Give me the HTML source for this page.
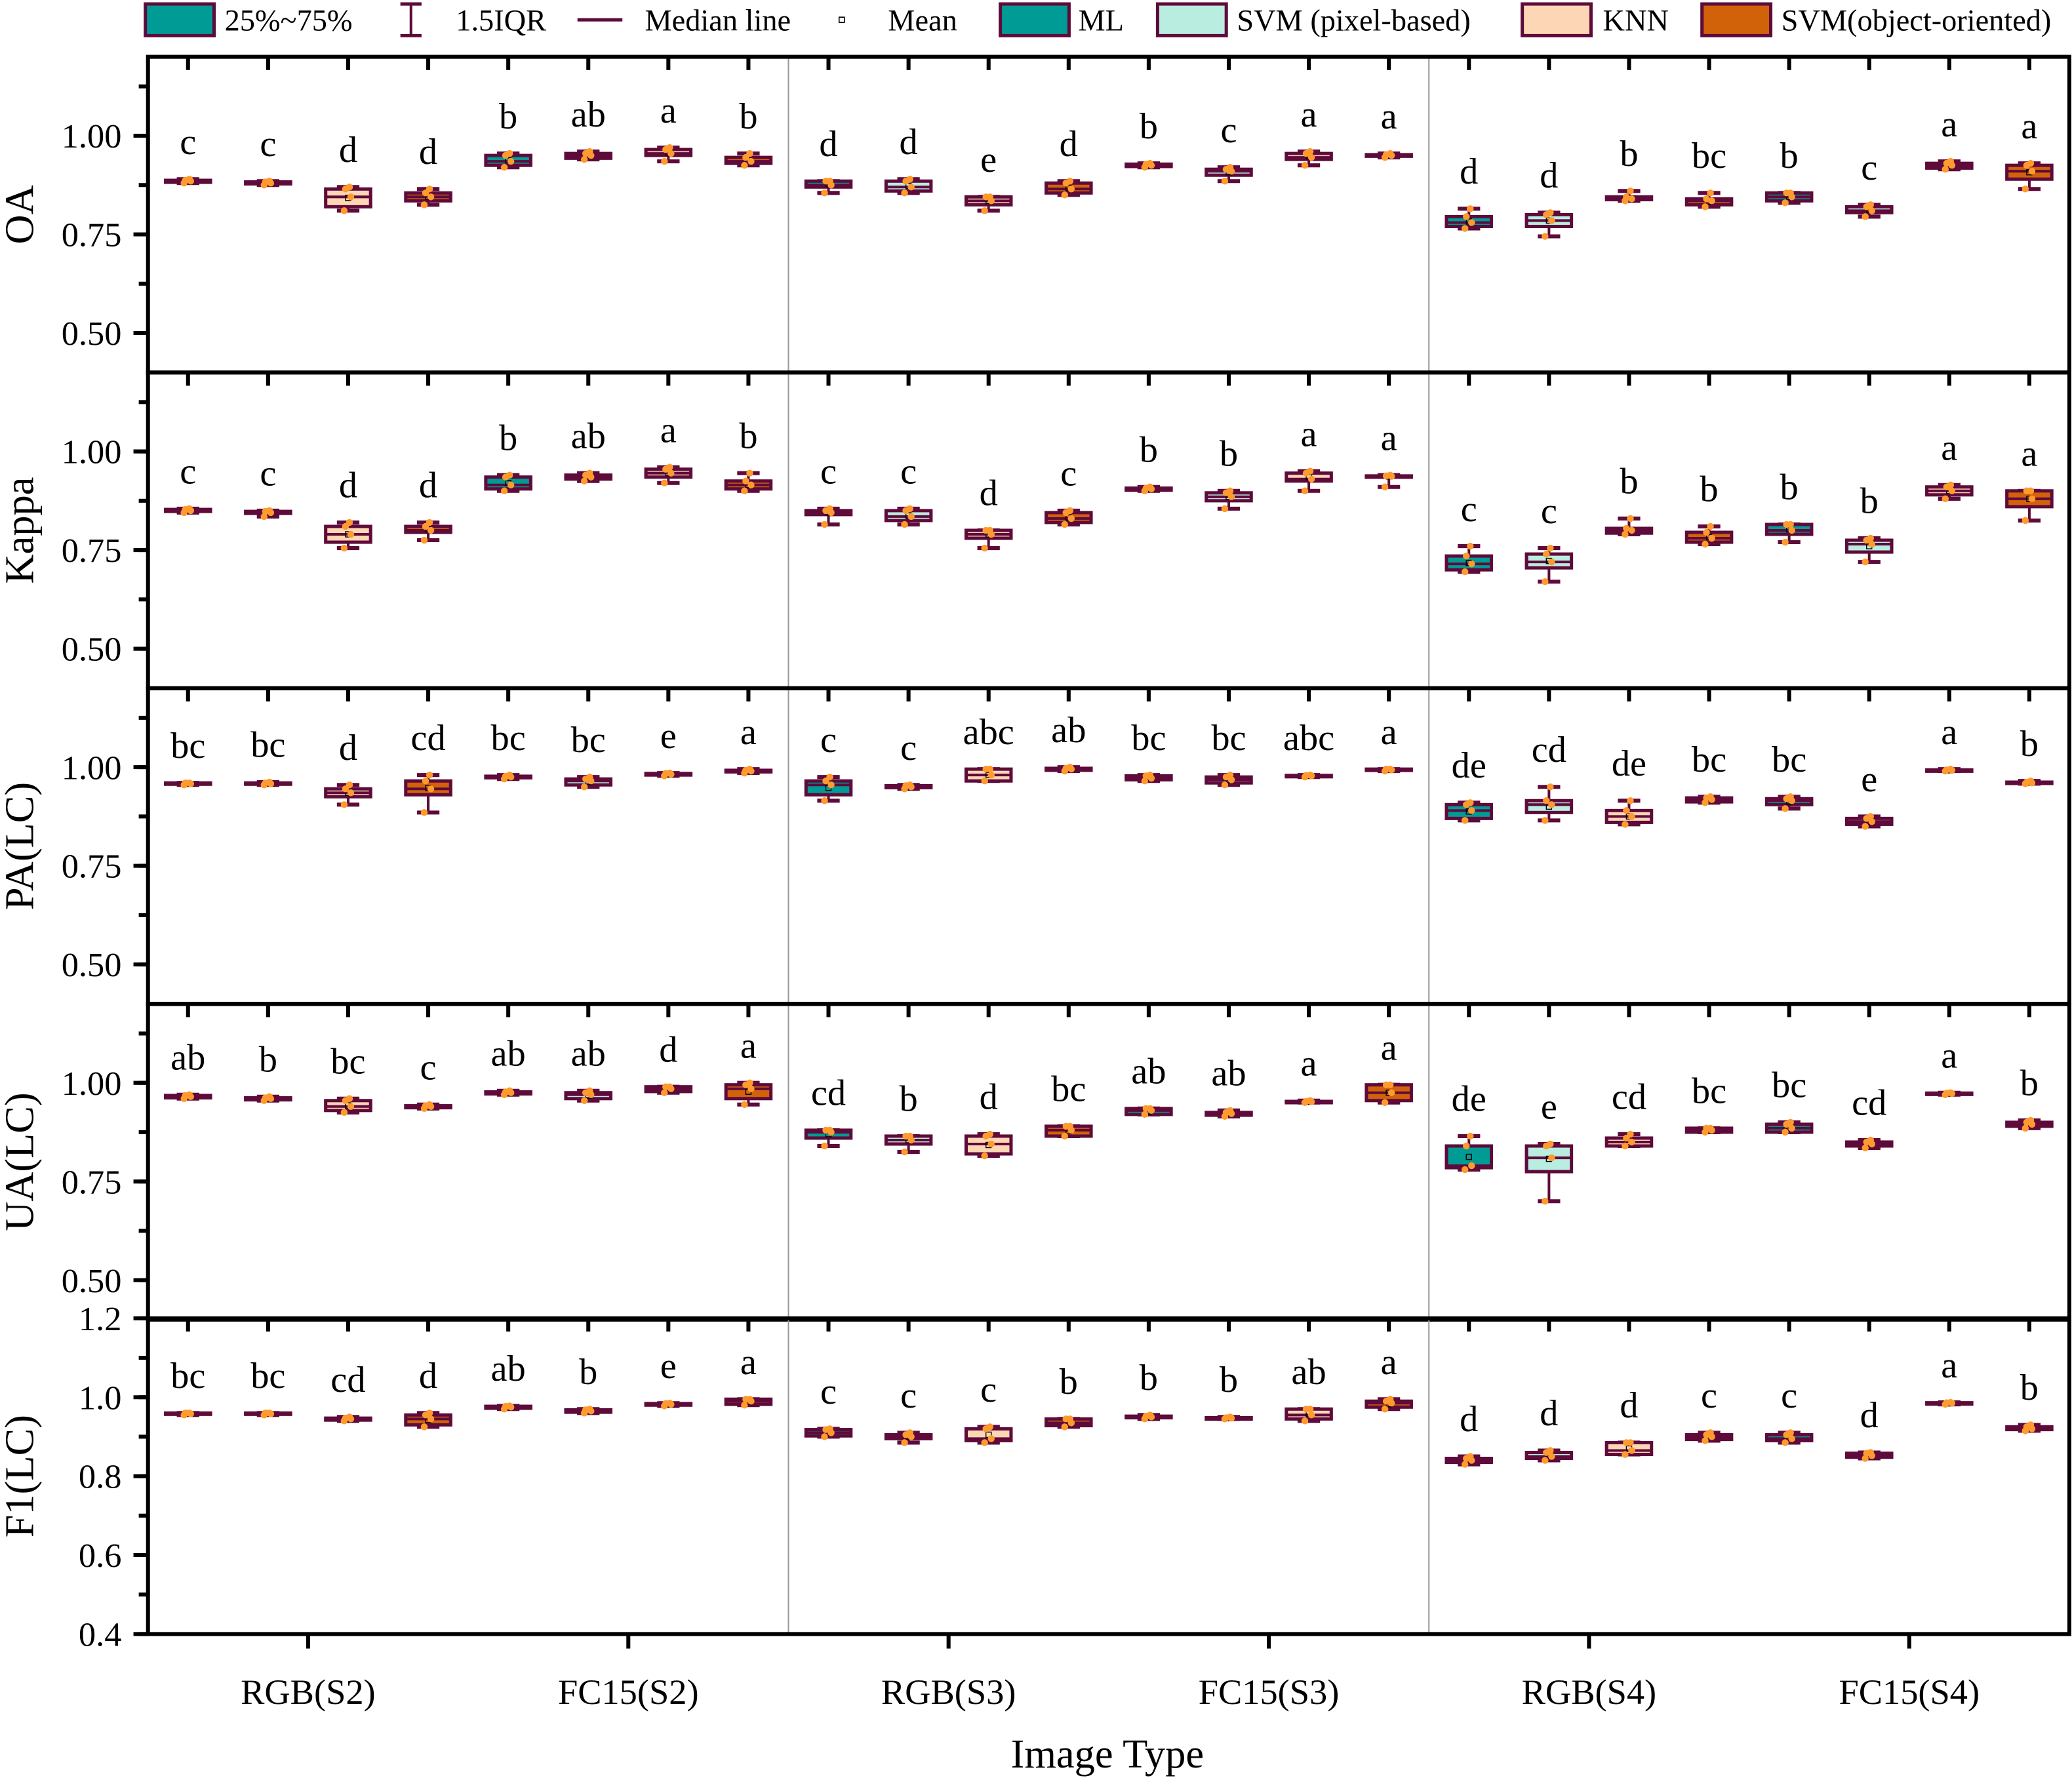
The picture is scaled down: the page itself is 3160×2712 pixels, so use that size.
<!DOCTYPE html>
<html><head><meta charset="utf-8"><style>
html,body{margin:0;padding:0;background:#fff;}
svg{display:block;}
text{font-family:"Liberation Serif",serif;fill:#000;}
</style></head><body>
<svg id="chart" width="3160" height="2712" viewBox="0 0 1568 1346" preserveAspectRatio="none" xmlns="http://www.w3.org/2000/svg">
<g id="legend">
  <g><rect x="110" y="3" width="52" height="24" fill="#009b94" stroke="#5e0a3a" stroke-width="2.5"/><text x="170" y="23" font-size="23">25%~75%</text></g>
  <g><line x1="311" y1="3" x2="311" y2="27" stroke="#5e0a3a" stroke-width="2"/><line x1="303" y1="3" x2="319" y2="3" stroke="#5e0a3a" stroke-width="2.5"/><line x1="303" y1="27" x2="319" y2="27" stroke="#5e0a3a" stroke-width="2.5"/><text x="345" y="23" font-size="23">1.5IQR</text></g>
  <g><line x1="437" y1="15" x2="471" y2="15" stroke="#5e0a3a" stroke-width="2.5"/><text x="488" y="23" font-size="23">Median line</text></g>
  <g><rect x="635" y="13" width="4" height="4" fill="none" stroke="#000" stroke-width="0.8"/><text x="672" y="23" font-size="23">Mean</text></g>
  <g><rect x="757" y="3" width="52" height="24" fill="#009b94" stroke="#5e0a3a" stroke-width="2.5"/><text x="816" y="23" font-size="23">ML</text></g>
  <g><rect x="876" y="3" width="52" height="24" fill="#b9ede0" stroke="#5e0a3a" stroke-width="2.5"/><text x="936" y="23" font-size="23">SVM (pixel-based)</text></g>
  <g><rect x="1152" y="3" width="52" height="24" fill="#fdd6b5" stroke="#5e0a3a" stroke-width="2.5"/><text x="1213" y="23" font-size="23">KNN</text></g>
  <g><rect x="1288" y="3" width="52" height="24" fill="#d2620a" stroke="#5e0a3a" stroke-width="2.5"/><text x="1348" y="23" font-size="23">SVM(object-oriented)</text></g>
</g>
<g id="plots"></g>
</svg>
<script>
const categories = ["RGB(S2)","FC15(S2)","RGB(S3)","FC15(S3)","RGB(S4)","FC15(S4)"];
const methods = ["ML","SVM (pixel-based)","KNN","SVM(object-oriented)"];
const metricNames = ["OA","Kappa","PA(LC)","UA(LC)","F1(LC)"];
// each box: [whiskerLow, q1, median, q3, whiskerHigh]
const oaBoxes = [[0.88,0.882,0.885,0.887,0.89],[0.875,0.878,0.88,0.883,0.885],[0.81,0.82,0.845,0.865,0.87],[0.825,0.835,0.845,0.855,0.865],[0.92,0.925,0.935,0.95,0.955],[0.94,0.943,0.95,0.955,0.96],[0.935,0.95,0.955,0.965,0.97],[0.925,0.93,0.935,0.945,0.955],[0.855,0.87,0.875,0.885,0.885],[0.855,0.86,0.87,0.885,0.89],[0.81,0.825,0.835,0.845,0.845],[0.85,0.855,0.865,0.88,0.885],[0.92,0.922,0.925,0.928,0.93],[0.885,0.9,0.91,0.915,0.92],[0.925,0.94,0.945,0.955,0.96],[0.945,0.948,0.95,0.952,0.955],[0.765,0.77,0.78,0.795,0.815],[0.745,0.77,0.785,0.8,0.805],[0.835,0.838,0.84,0.845,0.86],[0.82,0.825,0.835,0.84,0.855],[0.83,0.835,0.845,0.855,0.855],[0.795,0.805,0.81,0.82,0.825],[0.915,0.918,0.925,0.93,0.935],[0.865,0.89,0.91,0.925,0.93]];
const oaLetters = ["c","c","d","d","b","ab","a","b","d","d","e","d","b","c","a","a","d","d","b","bc","b","c","a","a"];
const kappaBoxes = [[0.845,0.848,0.85,0.853,0.855],[0.835,0.843,0.845,0.848,0.85],[0.755,0.77,0.79,0.81,0.82],[0.775,0.795,0.8,0.81,0.82],[0.9,0.905,0.915,0.935,0.94],[0.925,0.93,0.935,0.94,0.945],[0.92,0.935,0.945,0.955,0.96],[0.9,0.905,0.915,0.925,0.945],[0.815,0.84,0.845,0.85,0.855],[0.815,0.825,0.835,0.85,0.855],[0.755,0.78,0.79,0.8,0.8],[0.815,0.82,0.83,0.845,0.85],[0.9,0.902,0.905,0.907,0.91],[0.855,0.875,0.885,0.895,0.9],[0.9,0.925,0.93,0.945,0.95],[0.91,0.935,0.937,0.938,0.94],[0.695,0.7,0.715,0.735,0.76],[0.67,0.705,0.72,0.74,0.755],[0.79,0.793,0.8,0.805,0.83],[0.765,0.77,0.78,0.795,0.81],[0.77,0.79,0.8,0.815,0.815],[0.72,0.745,0.765,0.775,0.78],[0.88,0.89,0.9,0.91,0.915],[0.825,0.86,0.88,0.9,0.9]];
const kappaLetters = ["c","c","d","d","b","ab","a","b","c","c","d","c","b","b","a","a","c","c","b","b","b","b","a","a"];
const paBoxes = [[0.955,0.957,0.958,0.96,0.96],[0.955,0.957,0.958,0.96,0.962],[0.905,0.925,0.935,0.945,0.955],[0.885,0.93,0.945,0.965,0.98],[0.97,0.973,0.975,0.977,0.98],[0.95,0.955,0.965,0.97,0.975],[0.978,0.98,0.982,0.984,0.985],[0.985,0.988,0.99,0.992,0.995],[0.915,0.93,0.955,0.965,0.975],[0.945,0.948,0.95,0.953,0.955],[0.965,0.965,0.98,0.995,0.995],[0.99,0.992,0.995,0.997,1.0],[0.965,0.968,0.972,0.978,0.98],[0.955,0.96,0.968,0.975,0.98],[0.975,0.977,0.978,0.979,0.98],[0.99,0.992,0.993,0.995,0.995],[0.865,0.87,0.89,0.905,0.91],[0.865,0.885,0.905,0.915,0.95],[0.855,0.86,0.875,0.89,0.915],[0.91,0.912,0.918,0.922,0.925],[0.895,0.905,0.915,0.92,0.925],[0.85,0.855,0.862,0.87,0.875],[0.99,0.991,0.992,0.993,0.995],[0.958,0.96,0.96,0.962,0.965]];
const paLetters = ["bc","bc","d","cd","bc","bc","e","a","c","c","abc","ab","bc","bc","abc","a","de","cd","de","bc","bc","e","a","b"];
const uaBoxes = [[0.96,0.962,0.965,0.968,0.97],[0.955,0.957,0.96,0.962,0.965],[0.925,0.93,0.94,0.955,0.96],[0.935,0.937,0.94,0.942,0.945],[0.97,0.972,0.975,0.977,0.98],[0.955,0.96,0.97,0.975,0.98],[0.975,0.978,0.985,0.99,0.99],[0.945,0.96,0.985,0.995,1.0],[0.84,0.86,0.875,0.88,0.88],[0.825,0.845,0.855,0.865,0.865],[0.815,0.82,0.845,0.865,0.87],[0.865,0.865,0.88,0.89,0.89],[0.92,0.92,0.93,0.935,0.935],[0.915,0.918,0.922,0.925,0.93],[0.95,0.951,0.952,0.953,0.955],[0.95,0.955,0.975,0.995,0.995],[0.78,0.785,0.79,0.84,0.865],[0.7,0.775,0.81,0.84,0.845],[0.84,0.84,0.85,0.86,0.87],[0.875,0.875,0.88,0.885,0.885],[0.875,0.875,0.885,0.895,0.9],[0.835,0.84,0.845,0.85,0.855],[0.97,0.972,0.973,0.974,0.975],[0.885,0.89,0.895,0.9,0.905]];
const uaLetters = ["ab","b","bc","c","ab","ab","d","a","cd","b","d","bc","ab","ab","a","a","de","e","cd","bc","bc","cd","a","b"];
const f1Boxes = [[0.955,0.957,0.958,0.96,0.96],[0.955,0.957,0.958,0.96,0.96],[0.94,0.942,0.945,0.947,0.95],[0.925,0.93,0.945,0.955,0.96],[0.97,0.972,0.975,0.977,0.978],[0.96,0.962,0.965,0.968,0.97],[0.978,0.98,0.982,0.984,0.985],[0.98,0.982,0.99,0.995,0.995],[0.9,0.902,0.91,0.918,0.92],[0.885,0.895,0.9,0.905,0.91],[0.885,0.89,0.895,0.92,0.925],[0.925,0.928,0.935,0.945,0.945],[0.945,0.948,0.95,0.952,0.955],[0.945,0.946,0.947,0.948,0.95],[0.94,0.945,0.955,0.97,0.97],[0.97,0.975,0.985,0.99,0.995],[0.83,0.835,0.84,0.845,0.85],[0.84,0.845,0.85,0.86,0.865],[0.855,0.855,0.865,0.885,0.885],[0.89,0.893,0.9,0.905,0.91],[0.885,0.89,0.895,0.905,0.91],[0.845,0.848,0.852,0.858,0.86],[0.982,0.983,0.985,0.986,0.987],[0.915,0.918,0.92,0.925,0.93]];
const f1Letters = ["bc","bc","cd","d","ab","b","e","a","c","c","c","b","b","b","ab","a","d","d","d","c","c","d","a","b"];
const stdTicks = ["0.50","0.75","1.00"];
const f1Ticks = ["0.4","0.6","0.8","1.0","1.2"];

const NS="http://www.w3.org/2000/svg";
const fills=["#009b94","#b9ede0","#fdd6b5","#d2620a"];
const edge="#5e0a3a";
const L=112,R=1566,panelH=239,yMin=0.4,yMax=1.2;
const tops=[43,282,521,760,998];
const step=(R-L)/24;
function xPos(i){return L+step*(i+0.5);}
function yPos(p,v){return tops[p]+(yMax-v)/(yMax-yMin)*panelH;}
const root=document.getElementById('plots');
function mk(tag,attrs,parent){const e=document.createElementNS(NS,tag);for(const k in attrs)e.setAttribute(k,attrs[k]);(parent||root).appendChild(e);return e;}

const allBoxes=[oaBoxes,kappaBoxes,paBoxes,uaBoxes,f1Boxes];
const allLetters=[oaLetters,kappaLetters,paLetters,uaLetters,f1Letters];
const ids=["oa","kappa","pa","ua","f1"];

allBoxes.forEach((boxes,p)=>{
  const g=mk('g',{});
  
  
  const t=tops[p];
  [1,2].forEach(k=>{const s=mk('line',{x1:L+k*step*8,y1:t,x2:L+k*step*8,y2:t+panelH,stroke:'#999','stroke-width':1},g);
    
    });
  for(let i=0;i<24;i++) mk('line',{x1:xPos(i),y1:t,x2:xPos(i),y2:t+10,stroke:'#000','stroke-width':3},g);
  const isF1=p===4;
  const labels=isF1?f1Ticks:stdTicks;
  const minorStep=isF1?0.1:0.125;
  for(let v=yMin+(isF1?0:0.1); v<=yMax+1e-6; v+=minorStep){
    const y=yPos(p,v); if(y<t-0.5||y>t+panelH+0.5)continue;
    mk('line',{x1:L-7,y1:y,x2:L,y2:y,stroke:'#000','stroke-width':3},g);
  }
  labels.forEach(lb=>{const y=yPos(p,parseFloat(lb));
    mk('line',{x1:L-11,y1:y,x2:L,y2:y,stroke:'#000','stroke-width':3},g);
    const tx=mk('text',{x:L-20,y:y+9,'font-size':26,'text-anchor':'end'},g);tx.textContent=lb;
    
    });
  const yt=mk('text',{x:0,y:0,'font-size':31,'text-anchor':'middle',transform:`translate(25,${t+panelH/2}) rotate(-90)`},g);
  yt.textContent=metricNames[p];
  
  
  boxes.forEach((b,i)=>{
    const x=xPos(i),w=34,cw=17;
    const bg=mk('g',{},g);
    
    
    const [lo,q1,md,q3,hi]=b;
    mk('line',{x1:x,y1:yPos(p,hi),x2:x,y2:yPos(p,lo),stroke:edge,'stroke-width':2},bg);
    mk('line',{x1:x-cw/2,y1:yPos(p,hi),x2:x+cw/2,y2:yPos(p,hi),stroke:edge,'stroke-width':3},bg);
    mk('line',{x1:x-cw/2,y1:yPos(p,lo),x2:x+cw/2,y2:yPos(p,lo),stroke:edge,'stroke-width':3},bg);
    const hgt=Math.max(yPos(p,q1)-yPos(p,q3),1);
    mk('rect',{x:x-w/2,y:yPos(p,q3),width:w,height:hgt,fill:fills[i%4],stroke:edge,'stroke-width':2.5},bg);
    mk('line',{x1:x-w/2,y1:yPos(p,md),x2:x+w/2,y2:yPos(p,md),stroke:edge,'stroke-width':2},bg);
    mk('rect',{x:x-2,y:yPos(p,(q1+q3)/2)-2,width:4,height:4,fill:'none',stroke:'#000','stroke-width':0.7},bg);
    [lo,md,q3,hi].forEach((v,k)=>mk('circle',{cx:x+[-3,2,-2,1][k],cy:yPos(p,v),r:2.6,fill:'#ff9a2e'},bg));
    const lt=mk('text',{x:x,y:yPos(p,hi)-19,'font-size':28,'text-anchor':'middle'},g);
    lt.textContent=allLetters[p][i];
    
    
  });
  mk('rect',{x:L,y:t,width:R-L,height:panelH,fill:'none',stroke:'#000','stroke-width':3},g);
});
const bottom=tops[4]+panelH;
categories.forEach((c,k)=>{
  const x=L+step*(4*k+2);
  mk('line',{x1:x,y1:bottom,x2:x,y2:bottom+11,stroke:'#000','stroke-width':3});
  const tx=mk('text',{x:x,y:bottom+53,'font-size':27,'text-anchor':'middle'});tx.textContent=c;
  
  
});
const xt=mk('text',{x:838,y:1338,'font-size':31,'text-anchor':'middle'});xt.textContent="Image Type";


</script>
</body></html>
